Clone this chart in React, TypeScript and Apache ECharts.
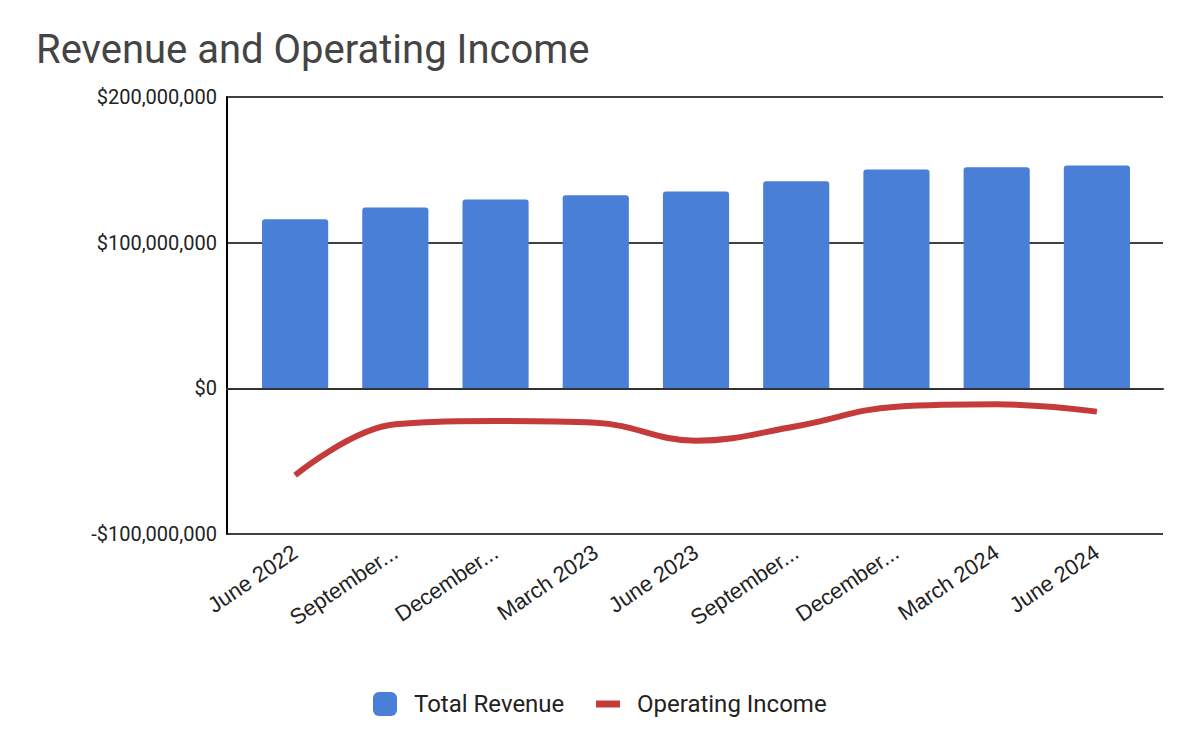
import React, { useEffect, useRef } from "react";
import * as echarts from "echarts";

const categories = [
  "June 2022",
  "September 2022",
  "December 2022",
  "March 2023",
  "June 2023",
  "September 2023",
  "December 2023",
  "March 2024",
  "June 2024",
];
const totalRevenue = [116e6, 124.2e6, 129.7e6, 132.5e6, 135.2e6, 142.1e6, 150.3e6, 151.7e6, 153e6];
const operatingIncome = [-59.7e6, -24.7e6, -22.4e6, -23.6e6, -36e6, -26e6, -12.6e6, -11e6, -16e6];
const yTicks = [-100e6, 0, 100e6, 200e6];

const fmtMoney = (v: number) => {
  const s = Math.abs(v).toLocaleString("en-US");
  return (v < 0 ? "-$" : "$") + s;
};
const fmtCat = (s: string) => (s.length > 12 ? s.split(" ")[0] + "..." : s);

export default function App() {
  const ref = useRef<HTMLDivElement>(null);
  useEffect(() => {
    if (!ref.current) return;
    const chart = echarts.init(ref.current, null, { renderer: "svg" });
    const yMin = yTicks[0];
    const yMax = yTicks[yTicks.length - 1];
    chart.setOption({
      animation: false,
      backgroundColor: "#ffffff",
      title: {
        text: "Revenue and Operating Income",
        left: 31,
        top: 24,
        textStyle: { fontFamily: "Roboto", fontSize: 40, fontWeight: "normal", color: "#444444" },
      },
      legend: [
        {
          left: 368,
          top: 687,
          itemWidth: 24,
          itemHeight: 24,
          icon: "roundRect",
          textStyle: { fontFamily: "Roboto", fontSize: 24, color: "#222222", padding: [0, 0, 0, 12] },
          data: ["Total Revenue"],
        },
        {
          left: 591,
          top: 687,
          itemWidth: 24,
          itemHeight: 7,
          icon: "rect",
          textStyle: { fontFamily: "Roboto", fontSize: 24, color: "#222222", padding: [0, 0, 0, 12] },
          data: ["Operating Income"],
        },
      ],
      grid: [
        { left: 227, right: 37, top: 97, bottom: 208, containLabel: false },
        { left: 245, right: 53, top: 97, bottom: 208, containLabel: false },
      ],
      xAxis: [
        {
          type: "category",
          gridIndex: 0,
          data: categories,
          z: 10,
          axisLine: { show: true, onZero: true, lineStyle: { color: "#333333", width: 2 } },
          axisTick: { show: false },
          axisLabel: { show: false },
          splitLine: { show: false },
        },
        {
          type: "category",
          gridIndex: 1,
          data: categories,
          boundaryGap: true,
          axisLine: { show: false },
          axisTick: { show: false },
          axisLabel: {
            rotate: 34,
            interval: 0,
            margin: 16,
            fontFamily: "Liberation Sans",
            fontSize: 22,
            color: "#222222",
            formatter: fmtCat,
          },
        },
      ],
      yAxis: [
        {
          type: "value",
          gridIndex: 0,
          min: yMin,
          max: yMax,
          interval: 100e6,
          axisLine: { show: true, lineStyle: { color: "#000000", width: 2 } },
          axisTick: { show: false },
          splitLine: { show: true, lineStyle: { color: "#000000", width: 1.5 } },
          axisLabel: {
            margin: 10,
            fontFamily: "Roboto",
            fontSize: 20,
            color: "#222222",
            formatter: fmtMoney,
          },
        },
        {
          type: "value",
          gridIndex: 1,
          min: yMin,
          max: yMax,
          interval: 100e6,
          show: false,
          splitLine: { show: false },
        },
      ],
      series: [
        {
          name: "Total Revenue",
          type: "bar",
          xAxisIndex: 1,
          yAxisIndex: 1,
          data: totalRevenue,
          barWidth: "66%",
          itemStyle: { color: "#4a7fd7", borderRadius: [3, 3, 0, 0] },
        },
        {
          name: "Operating Income",
          type: "line",
          xAxisIndex: 1,
          yAxisIndex: 1,
          data: operatingIncome,
          smooth: 0.4,
          symbol: "none",
          z: 12,
          lineStyle: { color: "#c53a3a", width: 6 },
          itemStyle: { color: "#c53a3a" },
        },
      ],
    });
    return () => chart.dispose();
  }, []);
  return <div ref={ref} style={{ width: 1200, height: 742, position: "absolute", left: 0, top: 0 }} />;
}
